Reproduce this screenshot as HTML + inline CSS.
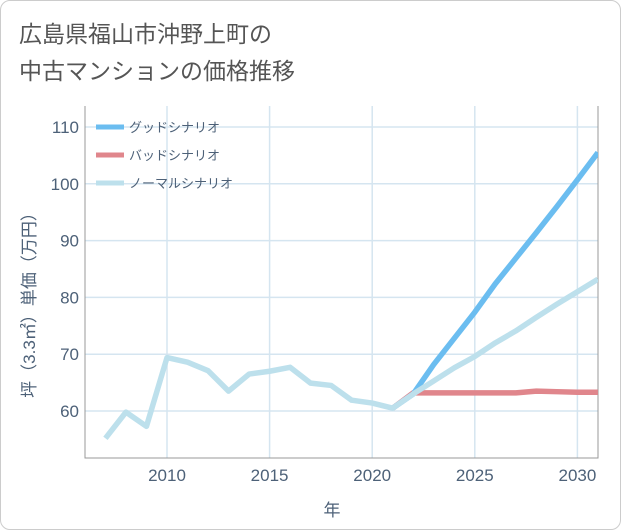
<!DOCTYPE html>
<html><head><meta charset="utf-8"><style>
body{margin:0;background:#fff;font-family:"Liberation Sans","Noto Sans CJK JP",sans-serif;}
#wrap{position:relative;width:619px;height:528px;border:1px solid #ccc;border-radius:10px;overflow:hidden;}
</style></head><body>
<div id="wrap">
<svg id="c" width="621" height="530"></svg>
</div>
<script>
const years=[2007,2008,2009,2010,2011,2012,2013,2014,2015,2016,2017,2018,2019,2020,2021,2022,2023,2024,2025,2026,2027,2028,2029,2030,2031];
const normal=[55.2,59.8,57.3,69.4,68.6,67.1,63.5,66.5,67.0,67.7,64.9,64.5,61.9,61.4,60.5,63.0,65.3,67.6,69.6,72.0,74.1,76.5,78.8,81.0,83.2];
const goodYears=[2021,2022,2023,2024,2025,2026,2027,2028,2029,2030,2031];
const good=[60.5,63.0,68.2,72.8,77.4,82.4,86.9,91.4,96.0,100.7,105.5];
const bad=[60.5,63.2,63.2,63.2,63.2,63.2,63.2,63.5,63.4,63.3,63.3];
const xTicks=[2010,2015,2020,2025,2030];
const yTicks=[60,70,80,90,100,110];
const legendLabels=["グッドシナリオ","バッドシナリオ","ノーマルシナリオ"];
const colors=["#6bbdf0","#e0868c","#bde0ec"];
const L=84,R=597,T=105,B=457;
const x=v=>166+(v-2010)*20.52;
const y=v=>410-(v-60)*5.68;
const s=document.getElementById('c');const NS="http://www.w3.org/2000/svg";
function el(t,a,txt){const e=document.createElementNS(NS,t);for(const k in a)e.setAttribute(k,a[k]);if(txt!=null)e.textContent=txt;s.appendChild(e);return e;}
let e;
e=el('text',{x:18,y:41,'font-size':23,fill:'#555'},'広島県福山市沖野上町の');
e=el('text',{x:18,y:78,'font-size':23,fill:'#555'},'中古マンションの価格推移');
for(const t of xTicks){e=el('line',{x1:x(t),x2:x(t),y1:T,y2:B,stroke:'#d5e5f0','stroke-width':1.5});
e=el('text',{x:x(t),y:480,'font-size':17,fill:'#4d6178','text-anchor':'middle'},t);}
for(const t of yTicks){e=el('line',{x1:L,x2:R,y1:y(t),y2:y(t),stroke:'#d5e5f0','stroke-width':1.5});
e=el('text',{x:78,y:y(t)+6,'font-size':17,fill:'#4d6178','text-anchor':'end'},t);}
e=el('path',{d:`M${L} ${T}V${B}H${R}V${T}`,fill:'none',stroke:'#999','stroke-width':1});
e=el('text',{x:331,y:515,'font-size':17,fill:'#4d6178','text-anchor':'middle'},'年');
e=el('text',{x:0,y:0,'font-size':17,fill:'#4d6178','text-anchor':'middle',transform:'translate(34,300) rotate(-90)'},'坪（3.3㎡）単価（万円）');
const clip=el('clipPath',{id:'cp'});const r=document.createElementNS(NS,'rect');r.setAttribute('x',L);r.setAttribute('y',T);r.setAttribute('width',R-L);r.setAttribute('height',B-T);clip.appendChild(r);
function line(xs,vs,c,n){e=el('polyline',{points:xs.map((v,i)=>x(v)+','+y(vs[i])).join(' '),fill:'none',stroke:c,'stroke-width':5.5,'stroke-linejoin':'round','clip-path':'url(#cp)'});}
line(goodYears,bad,colors[1],'bad-scenario-line');
line(goodYears,good,colors[0],'good-scenario-line');
line(years,normal,colors[2],'normal-scenario-line');
legendLabels.forEach((lb,i)=>{const yy=126+i*28;
e=el('line',{x1:95,x2:123,y1:yy,y2:yy,stroke:colors[i],'stroke-width':5});
e=el('text',{x:128,y:yy+5,'font-size':13,fill:'#4d6178'},lb);});
</script>
</body></html>
